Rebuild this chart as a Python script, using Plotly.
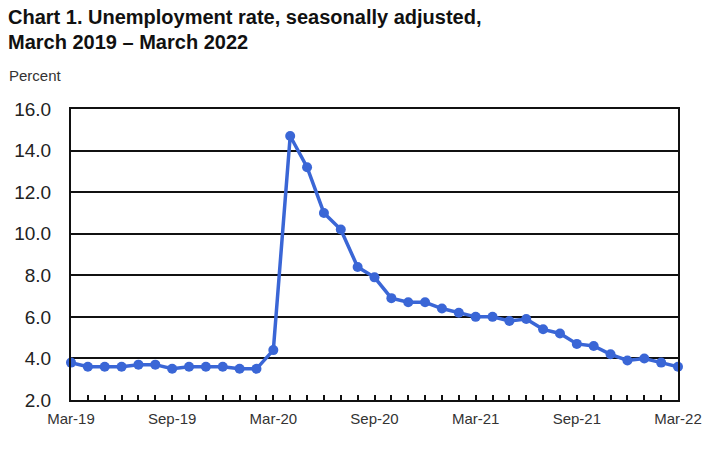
import plotly.graph_objects as go

months = ["Mar-19","Apr-19","May-19","Jun-19","Jul-19","Aug-19","Sep-19","Oct-19","Nov-19","Dec-19",
          "Jan-20","Feb-20","Mar-20","Apr-20","May-20","Jun-20","Jul-20","Aug-20","Sep-20","Oct-20","Nov-20","Dec-20",
          "Jan-21","Feb-21","Mar-21","Apr-21","May-21","Jun-21","Jul-21","Aug-21","Sep-21","Oct-21","Nov-21","Dec-21",
          "Jan-22","Feb-22","Mar-22"]
rate = [3.8,3.6,3.6,3.6,3.7,3.7,3.5,3.6,3.6,3.6,
        3.5,3.5,4.4,14.7,13.2,11.0,10.2,8.4,7.9,6.9,6.7,6.7,
        6.4,6.2,6.0,6.0,5.8,5.9,5.4,5.2,4.7,4.6,4.2,3.9,
        4.0,3.8,3.6]
tick_labels = ["Mar-19","Sep-19","Mar-20","Sep-20","Mar-21","Sep-21","Mar-22"]
y_ticks = [2,4,6,8,10,12,14,16]

idx = list(range(len(months)))
tick_pos = [months.index(t) for t in tick_labels]

fig = go.Figure()
fig.add_trace(go.Scatter(
    x=idx, y=rate, mode="lines+markers",
    line=dict(color="#3a66d6", width=3.5),
    marker=dict(color="#3a66d6", size=10),
    cliponaxis=False, hoverinfo="skip"))

font = "Liberation Sans, Arial, sans-serif"
W = 611.0
H = 291.0
fig.update_layout(
    width=714, height=452,
    margin=dict(l=71, r=32, t=109, b=52),
    paper_bgcolor="white", plot_bgcolor="white",
    showlegend=False,
    font=dict(family=font, color="#222"),
)
fig.add_annotation(text="<b>Chart 1. Unemployment rate, seasonally adjusted,</b>",
                   xref="paper", yref="paper", x=(6-71)/W, y=1+92/H, xanchor="left", yanchor="middle",
                   showarrow=False, font=dict(size=20, color="#111", family=font))
fig.add_annotation(text="<b>March 2019 – March 2022</b>",
                   xref="paper", yref="paper", x=(6-71)/W, y=1+67/H, xanchor="left", yanchor="middle",
                   showarrow=False, font=dict(size=20, color="#111", family=font))
fig.add_annotation(text="Percent",
                   xref="paper", yref="paper", x=(7-71)/W, y=1+34/H, xanchor="left", yanchor="middle",
                   showarrow=False, font=dict(size=15, color="#333", family=font))

fig.update_xaxes(
    range=[0, 36], tickmode="array", tickvals=tick_pos, ticktext=tick_labels,
    ticks="inside", ticklen=5, tickwidth=2, tickcolor="#111",
    minor=dict(ticks="inside", dtick=1, tick0=0, ticklen=5, tickwidth=2, tickcolor="#111", showgrid=False),
    showgrid=False, showline=True, linecolor="#111", linewidth=2, mirror=True,
    ticklabelstandoff=4,
    tickfont=dict(size=15, color="#333", family=font), zeroline=False)
fig.update_yaxes(
    range=[2, 16], tickmode="array", tickvals=y_ticks, ticktext=[f"{v:.1f}" for v in y_ticks],
    showgrid=True, gridcolor="#111", gridwidth=1.5,
    showline=True, linecolor="#111", linewidth=2, mirror=True,
    ticks="", ticklabelstandoff=14,
    tickfont=dict(size=19, color="#222", family=font), zeroline=False)

fig.write_html("out.html")
